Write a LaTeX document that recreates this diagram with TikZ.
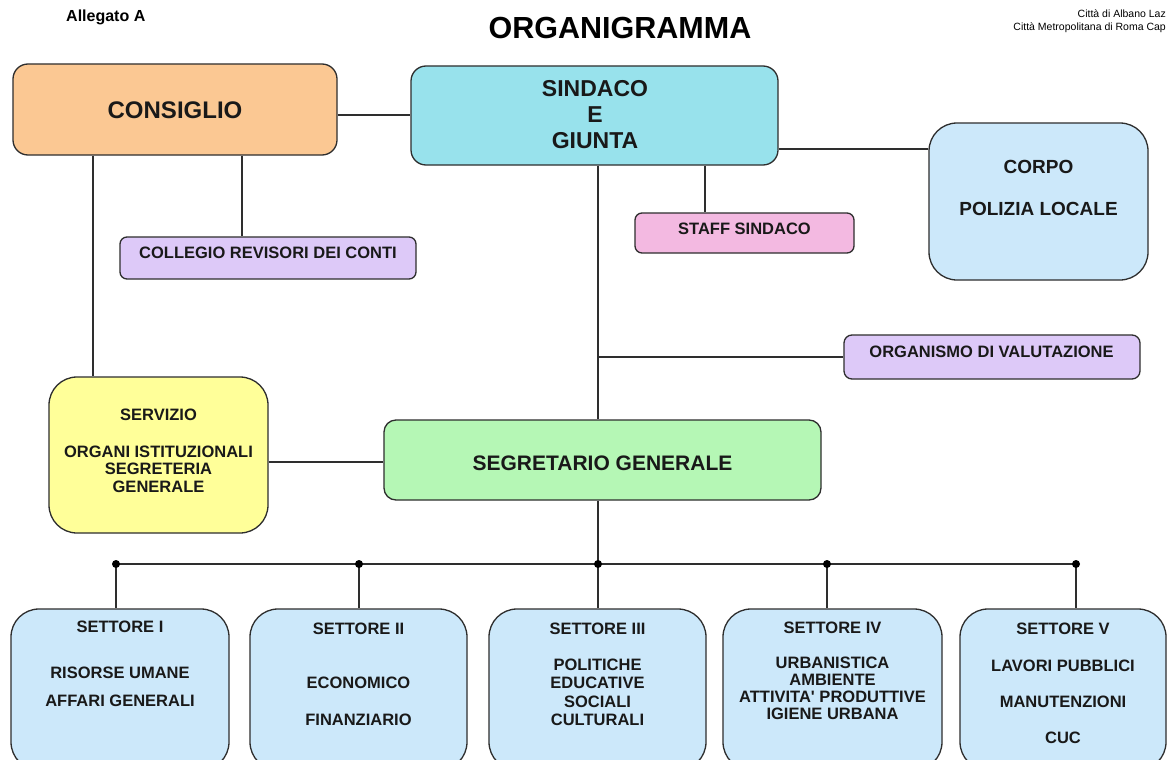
\documentclass[tikz,border=0pt]{standalone}
\usepackage{fontspec}
\setmainfont{Liberation Sans}
\definecolor{linec}{HTML}{2E2E2E}
\definecolor{cons}{HTML}{FBC893}
\definecolor{sind}{HTML}{98E2EC}
\definecolor{lblue}{HTML}{CCE8FA}
\definecolor{pinkc}{HTML}{F3B9E1}
\definecolor{lav}{HTML}{DDC9F8}
\definecolor{yel}{HTML}{FFFF99}
\definecolor{grn}{HTML}{B5F7B5}
\begin{document}
\begin{tikzpicture}[x=1pt,y=-1pt,
  box/.style={draw=linec,line width=1.3pt,inner sep=0pt,minimum width=#1},
  conn/.style={draw=linec,line width=1.3pt},
  t/.style={inner sep=0pt,font=\bfseries\fontsize{16.5}{19}\selectfont,text=black!90},
  dotc/.style={fill=black}]
\useasboundingbox (0,0) rectangle (1167,760);
\fill[white] (0,0) rectangle (1167,760);
% header texts
\node[inner sep=0pt,font=\bfseries\fontsize{30.5}{34}\selectfont,anchor=center] (title) at (620,28) {ORGANIGRAMMA};
\node[inner sep=0pt,font=\bfseries\fontsize{16}{18}\selectfont,anchor=west] (alleg) at (66,17) {Allegato A};
\node[inner sep=0pt,font=\fontsize{10.5}{12}\selectfont,anchor=base east] (citta1) at (1166,18) {Città di Albano Laz};
\node[inner sep=0pt,font=\fontsize{10.5}{12}\selectfont,anchor=base east] (citta2) at (1166,31) {Città Metropolitana di Roma Cap};
% boxes
\node[box=324pt,minimum height=91pt,fill=cons,rounded corners=15pt] (consiglio) at (175,109.5) {};
\node[box=367pt,minimum height=99pt,fill=sind,rounded corners=15pt] (sindaco) at (594.5,115.5) {};
\node[box=219pt,minimum height=157pt,fill=lblue,rounded corners=28pt] (corpo) at (1038.5,201.5) {};
\node[box=219pt,minimum height=40pt,fill=pinkc,rounded corners=7pt] (staff) at (744.5,233) {};
\node[box=296pt,minimum height=42pt,fill=lav,rounded corners=7pt] (collegio) at (268,258) {};
\node[box=296pt,minimum height=44pt,fill=lav,rounded corners=8pt] (organismo) at (992,357) {};
\node[box=219pt,minimum height=156pt,fill=yel,rounded corners=28pt] (servizio) at (158.5,455) {};
\node[box=437pt,minimum height=80pt,fill=grn,rounded corners=12pt] (segretario) at (602.5,460) {};
\node[box=218pt,minimum height=161pt,fill=lblue,rounded corners=28pt] (s1) at (120,689.5) {};
\node[box=217pt,minimum height=161pt,fill=lblue,rounded corners=28pt] (s2) at (358.5,689.5) {};
\node[box=217pt,minimum height=161pt,fill=lblue,rounded corners=28pt] (s3) at (597.5,689.5) {};
\node[box=219pt,minimum height=161pt,fill=lblue,rounded corners=28pt] (s4) at (832.5,689.5) {};
\node[box=206pt,minimum height=161pt,fill=lblue,rounded corners=28pt] (s5) at (1063,689.5) {};
% helper coordinates
\coordinate (spine) at (598,0);
\coordinate (xstaff) at (705,0);
\coordinate (xcoll) at (242,0);
\coordinate (xserv) at (93,0);
\coordinate (ycorpo) at (0,149);
\coordinate (yorg) at (0,357);
\coordinate (yserv) at (0,462);
\coordinate (ycons) at (0,115);
\coordinate (d1) at (116,564);
\coordinate (d2) at (359,564);
\coordinate (d3) at (598,564);
\coordinate (d4) at (827,564);
\coordinate (d5) at (1076,564);
% connectors
\draw[conn] (consiglio.east |- ycons) -- (sindaco.west |- ycons);
\draw[conn] (sindaco.east |- ycorpo) -- (corpo.west |- ycorpo);
\draw[conn] (sindaco.south -| xstaff) -- (staff.north -| xstaff);
\draw[conn] (consiglio.south -| xcoll) -- (collegio.north -| xcoll);
\draw[conn] (consiglio.south -| xserv) -- (servizio.north -| xserv);
\draw[conn] (sindaco.south -| spine) -- (segretario.north -| spine);
\draw[conn] (spine |- yorg) -- (organismo.west |- yorg);
\draw[conn] (servizio.east |- yserv) -- (segretario.west |- yserv);
\draw[conn] (segretario.south -| spine) -- (d3);
\draw[conn] (d1) -- (d5);
\draw[conn] (d1) -- (s1.north -| d1);
\draw[conn] (d2) -- (s2.north -| d2);
\draw[conn] (d3) -- (s3.north -| d3);
\draw[conn] (d4) -- (s4.north -| d4);
\draw[conn] (d5) -- (s5.north -| d5);
\foreach \d in {d1,d2,d3,d4,d5} \fill[dotc] (\d) circle (4pt);
% texts
\node[t,font=\bfseries\fontsize{24}{26}\selectfont] (tcons) at (175,110) {CONSIGLIO};
\node[t,font=\bfseries\fontsize{23}{26}\selectfont] (tsind1) at (595,89) {SINDACO};
\node[t,font=\bfseries\fontsize{23}{26}\selectfont] (tsind2) at (595,115) {E};
\node[t,font=\bfseries\fontsize{23}{26}\selectfont] (tsind3) at (595,141) {GIUNTA};
\node[t,font=\bfseries\fontsize{19}{22}\selectfont] (tcorpo1) at (1038.5,167) {CORPO};
\node[t,font=\bfseries\fontsize{19}{22}\selectfont] (tcorpo2) at (1038.5,209) {POLIZIA LOCALE};
\node[t] (tstaff) at (744.5,229) {STAFF SINDACO};
\node[t] (tcoll) at (268,253) {COLLEGIO REVISORI DEI CONTI};
\node[t] (torg) at (991.5,352) {ORGANISMO DI VALUTAZIONE};
\node[t] (tserv1) at (158.5,415) {SERVIZIO};
\node[t] (tserv2) at (158.5,452) {ORGANI ISTITUZIONALI};
\node[t] (tserv3) at (158.5,469) {SEGRETERIA};
\node[t] (tserv4) at (158.5,487) {GENERALE};
\node[t,font=\bfseries\fontsize{21}{24}\selectfont] (tseg) at (602.5,463) {SEGRETARIO GENERALE};
\node[t] (t1a) at (120,627) {SETTORE I};
\node[t] (t1b) at (120,673) {RISORSE UMANE};
\node[t] (t1c) at (120,701) {AFFARI GENERALI};
\node[t] (t2a) at (358.5,629) {SETTORE II};
\node[t] (t2b) at (358.5,683) {ECONOMICO};
\node[t] (t2c) at (358.5,720) {FINANZIARIO};
\node[t] (t3a) at (597.5,629) {SETTORE III};
\node[t] (t3b) at (597.5,665) {POLITICHE};
\node[t] (t3c) at (597.5,683) {EDUCATIVE};
\node[t] (t3d) at (597.5,702) {SOCIALI};
\node[t] (t3e) at (597.5,720) {CULTURALI};
\node[t] (t4a) at (832.5,628) {SETTORE IV};
\node[t] (t4b) at (832.5,663) {URBANISTICA};
\node[t] (t4c) at (832.5,680) {AMBIENTE};
\node[t] (t4d) at (832.5,697) {ATTIVITA\textquotesingle{} PRODUTTIVE};
\node[t] (t4e) at (832.5,714) {IGIENE URBANA};
\node[t] (t5a) at (1063,629) {SETTORE V};
\node[t] (t5b) at (1063,666) {LAVORI PUBBLICI};
\node[t] (t5c) at (1063,702) {MANUTENZIONI};
\node[t] (t5d) at (1063,738) {CUC};
\end{tikzpicture}
\end{document}
